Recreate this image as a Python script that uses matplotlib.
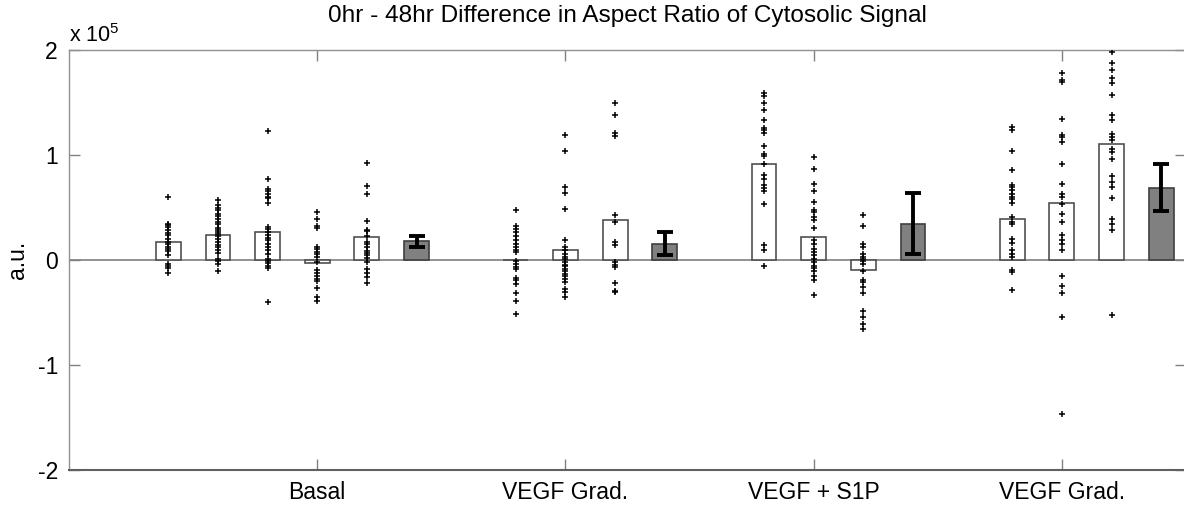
import matplotlib
matplotlib.use('Agg')
import matplotlib.pyplot as plt

plt.rcParams['font.family'] = ['Liberation Sans', 'DejaVu Sans']
plt.rcParams['mathtext.fontset'] = 'custom'
plt.rcParams['mathtext.rm'] = 'Liberation Sans'

# all values in units of 1e5 (a.u.)
group_labels = ['Basal', 'VEGF Grad.', 'VEGF + S1P', 'VEGF Grad.']

# per-experiment means (white bars) and individual cells (+)
basal_means = [0.172, 0.237, 0.269, -0.025, 0.218]
basal_points = [
    [0.597, 0.345, 0.329, 0.313, 0.282, 0.256, 0.237, 0.202, 0.170, 0.148,
     0.122, 0.100, 0.084, 0.043, -0.036, -0.059, -0.078, -0.126],
    [0.574, 0.520, 0.498, 0.473, 0.441, 0.415, 0.387, 0.361, 0.339, 0.307,
     0.282, 0.266, 0.243, 0.224, 0.202, 0.170, 0.145, 0.122, 0.091, 0.065,
     0.008, -0.011, -0.036, -0.107],
    [1.233, 0.772, 0.680, 0.657, 0.632, 0.600, 0.590, 0.542, 0.313, 0.291,
     0.266, 0.234, 0.212, 0.186, 0.154, 0.122, 0.091, 0.059, 0.011, -0.005,
     -0.031, -0.053, -0.078, -0.399],
    [0.457, 0.387, 0.323, 0.304, 0.122, 0.100, 0.075, 0.053, 0.027, -0.021,
     -0.100, -0.126, -0.154, -0.180, -0.196, -0.266, -0.355, -0.387],
    [0.921, 0.708, 0.628, 0.368, 0.282, 0.272, 0.224, 0.170, 0.148, 0.122,
     0.084, 0.065, 0.043, 0.021, -0.021, -0.084, -0.126, -0.164, -0.218],
]

vgrad_means = [0.002, 0.091, 0.377]
vgrad_points = [
    [0.473, 0.320, 0.298, 0.266, 0.224, 0.186, 0.154, 0.122, 0.097, 0.075,
     -0.011, -0.036, -0.068, -0.084, -0.170, -0.186, -0.228, -0.313, -0.387,
     -0.514],
    [1.189, 1.036, 0.695, 0.641, 0.482, 0.186, 0.122, 0.091, 0.059, 0.033,
     0.011, -0.021, -0.043, -0.062, -0.084, -0.107, -0.132, -0.154, -0.180,
     -0.212, -0.275, -0.301, -0.355],
    [1.497, 1.383, 1.210, 1.179, 0.425, 0.361, 0.170, 0.138, -0.021, -0.043,
     -0.068, -0.218, -0.291, -0.307],
]

s1p_means = [0.912, 0.218, -0.091]
s1p_points = [
    [1.586, 1.561, 1.497, 1.427, 1.332, 1.258, 1.236, 1.211, 1.084, 1.014,
     0.988, 0.918, 0.807, 0.775, 0.711, 0.689, 0.654, 0.530, 0.138, 0.091,
     -0.062],
    [0.982, 0.871, 0.727, 0.654, 0.552, 0.479, 0.457, 0.409, 0.377, 0.307,
     0.186, 0.148, 0.107, 0.075, 0.043, 0.005, -0.021, -0.053, -0.075, -0.107,
     -0.148, -0.189, -0.329],
    [0.425, 0.323, 0.148, 0.122, 0.059, 0.033, 0.011, -0.014, -0.036, -0.107,
     -0.186, -0.212, -0.260, -0.317, -0.482, -0.546, -0.609, -0.657],
]

vgrad2_means = [0.393, 0.546, 1.109]
vgrad2_points = [
    [1.262, 1.236, 1.036, 0.854, 0.718, 0.695, 0.670, 0.632, 0.600, 0.578,
     0.546, 0.409, 0.361, 0.339, 0.196, 0.164, 0.091, 0.059, 0.027, -0.100,
     -0.116, -0.284],
    [1.777, 1.714, 1.698, 1.341, 1.195, 1.173, 1.124, 0.918, 0.727, 0.625,
     0.600, 0.536, 0.434, 0.361, 0.234, 0.186, 0.148, 0.091, -0.148, -0.243,
     -0.317, -0.546, -1.463],
    [1.984, 1.879, 1.809, 1.730, 1.682, 1.570, 1.380, 1.332, 1.198, 1.173,
     1.141, 1.061, 1.029, 0.959, 0.797, 0.743, 0.695, 0.593, 0.393, 0.339,
     0.282, -0.520],
]

# condition averages (grey bars) with error
cond_means = [0.177, 0.157, 0.347, 0.688]
cond_err = [0.053, 0.112, 0.294, 0.222]

groups = [
    (basal_means, basal_points),
    (vgrad_means, vgrad_points),
    (s1p_means, s1p_points),
    (vgrad2_means, vgrad2_points),
]

fig = plt.figure(figsize=(11.84, 5.07), dpi=100)
ax = fig.add_axes([0.0583, 0.0730, 0.9434, 0.8284])

edge = '#505050'
width = 0.5
x = 2
for gi, (means, pts) in enumerate(groups):
    for m, p in zip(means, pts):
        ax.bar(x, m, width=width, color='white', edgecolor=edge,
               linewidth=1.2, zorder=2)
        ax.plot([x] * len(p), p, '+', color='black', markersize=4.5,
                markeredgewidth=1.1, zorder=4)
        x += 1
    ax.bar(x, cond_means[gi], width=width, color='#808080', edgecolor='#404040',
           linewidth=1.2, zorder=2)
    ax.errorbar(x, cond_means[gi], yerr=cond_err[gi], color='black',
                elinewidth=2.8, capsize=6, capthick=2.8, zorder=5)
    x += 2

ax.axhline(0, color='#808080', linewidth=1.2, zorder=1)

ax.set_xlim(0, 22.5)
ax.set_ylim(-2, 2)
ax.set_yticks([-2, -1, 0, 1, 2])
ax.set_yticklabels(['-2', '-1', '0', '1', '2'])
ax.set_xticks([5, 10, 15, 20])
ax.set_xticklabels(group_labels)
ax.tick_params(direction='in', length=8, width=1, color='#808080',
               labelsize=16.5, pad=8, top=True, right=True)

for side in ['left', 'top', 'right']:
    ax.spines[side].set_color('#909090')
    ax.spines[side].set_linewidth(1.0)
ax.spines['bottom'].set_color('#606060')
ax.spines['bottom'].set_linewidth(1.5)

ax.set_title('0hr - 48hr Difference in Aspect Ratio of Cytosolic Signal',
             fontsize=17.6, pad=20)
ax.set_ylabel('a.u.', fontsize=16.5, labelpad=6)
ax.text(0.0, 1.008, r'x 10$^{5}$', transform=ax.transAxes, fontsize=15.5,
        ha='left', va='bottom')

fig.savefig('out.png', dpi=100)
